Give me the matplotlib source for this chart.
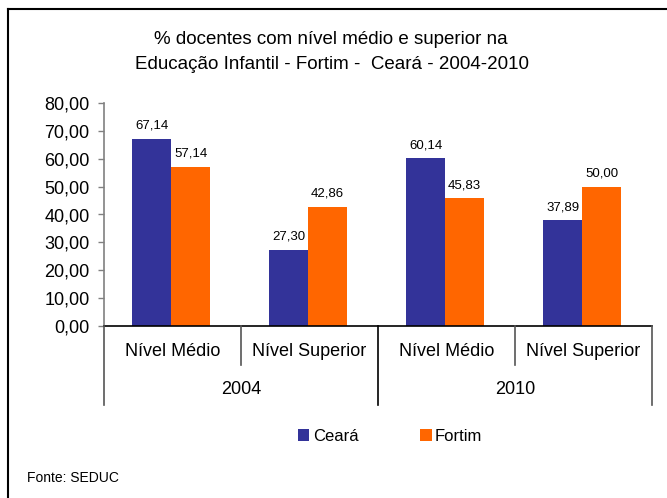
import numpy as np
import matplotlib.pyplot as plt
from matplotlib.lines import Line2D
from matplotlib.patches import Patch
import matplotlib.transforms as mtransforms

plt.rcParams['font.family'] = ['Liberation Sans', 'DejaVu Sans']

# data
anos = ['2004', '2010']
niveis = ['Nível Médio', 'Nível Superior', 'Nível Médio', 'Nível Superior']
ceara = [67.14, 27.30, 60.14, 37.89]
fortim = [57.14, 42.86, 45.83, 50.00]
series = ['Ceará', 'Fortim']
cores = ['#333399', '#FF6600']

W, H = 667, 498
fig = plt.figure(figsize=(W / 100, H / 100), dpi=100)

# axes box in pixels: x 104..652, y 103..326
ax = fig.add_axes([104 / W, 1 - 326 / H, (652 - 104) / W, (326 - 103) / H])

x = np.arange(len(niveis))
w = 0.285
b1 = ax.bar(x - w / 2 - 0.01, ceara, w, color=cores[0], label=series[0])
b2 = ax.bar(x + w / 2 - 0.01, fortim, w, color=cores[1], label=series[1])

def fmt(v):
    return ('%.2f' % v).replace('.', ',')

for bars, vals in ((b1, ceara), (b2, fortim)):
    for r, v in zip(bars, vals):
        ax.annotate(fmt(v), (r.get_x() + r.get_width() / 2, v),
                    xytext=(0, 9.5), textcoords='offset points',
                    ha='center', va='center', fontsize=9.5)

ax.set_xlim(-0.5, len(niveis) - 0.5)
ax.set_ylim(0, 80)
ax.set_yticks(np.arange(0, 81, 10))
ax.set_yticklabels([fmt(v) for v in np.arange(0, 81, 10)], fontsize=13)
ax.set_xticks([])
ax.tick_params(axis='y', direction='out', length=4.5, width=1, color='#808080', pad=6)

for s in ('top', 'right'):
    ax.spines[s].set_visible(False)
ax.spines['left'].set_color('#808080')
ax.spines['left'].set_linewidth(1.2)
ax.spines['bottom'].set_color('black')
ax.spines['bottom'].set_linewidth(1.2)

# multi-level category axis drawn below
trans = mtransforms.blended_transform_factory(ax.transData, fig.transFigure)
def fy(py):
    return 1 - py / H

for xi, lab in zip(x, niveis):
    ax.text(xi, fy(351), lab, transform=trans, ha='center', va='center', fontsize=13)
for i, ano in enumerate(anos):
    ax.text(2 * i + 0.5, fy(390), ano, transform=trans, ha='center', va='center', fontsize=13)

for xb in [-0.5, 0.5, 1.5, 2.5, 3.5]:
    bottom = fy(365) if xb in (0.5, 2.5) else fy(405)
    col = 'black' if xb == 1.5 else '#555555'
    fig.add_artist(Line2D([xb, xb], [fy(326), bottom], transform=trans,
                          color=col, lw=1.2))

# title
fig.text(331 / W, fy(40), '% docentes com nível médio e superior na',
         ha='center', va='center', fontsize=13.5)
fig.text(332 / W, fy(64), 'Educação Infantil - Fortim -  Ceará - 2004-2010',
         ha='center', va='center', fontsize=13.5)

# legend
handles = [Patch(facecolor=c, edgecolor='none') for c in cores]
fig.legend(handles, series, loc='center', bbox_to_anchor=(390 / W, fy(436)),
           ncol=2, frameon=False, fontsize=12, handlelength=0.7, handleheight=0.7,
           handletextpad=0.2, columnspacing=3.7)

fig.text(27 / W, fy(478), 'Fonte: SEDUC', ha='left', va='center', fontsize=10)

# outer frame (top and left edges only visible)
fig.add_artist(Line2D([8 / W, 1], [fy(9), fy(9)], transform=fig.transFigure, color='black', lw=1.5))
fig.add_artist(Line2D([8 / W, 8 / W], [fy(9), 0], transform=fig.transFigure, color='black', lw=1.5))

fig.savefig('out.png', dpi=100)
